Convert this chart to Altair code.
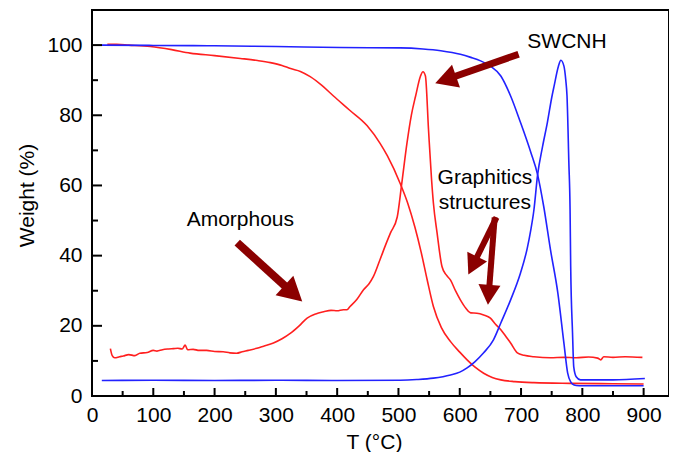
import math
import altair as alt
import pandas as pd

# ---------------- data ----------------
red_tga_T = [25, 40, 60, 95, 130, 160, 200, 242, 270, 291, 310, 324, 340, 356, 375, 394, 420, 449, 470, 482,
             503, 515, 527, 537, 547, 557, 570, 585, 600, 612, 625, 639, 653, 667, 690, 721, 780, 850, 900]
red_tga_W = [100.2, 100.2, 100.0, 99.6, 98.7, 97.7, 97.0, 96.2, 95.6, 95.0, 94.2, 93.3, 92.5, 91.0, 88.5, 85.5,
             81.5, 77.0, 72.0, 68.4, 60.5, 55.0, 48.0, 41.0, 33.0, 25.5, 19.5, 15.5, 12.5, 10.3, 8.2, 6.5, 5.3,
             4.6, 4.1, 3.8, 3.6, 3.5, 3.4]

red_dtg_T = [30, 33, 37, 45, 51, 60, 70, 78, 90, 100, 106, 115, 125, 133, 140, 147, 152, 156, 165, 175, 187,
             200, 214, 225, 236, 245, 255, 269, 280, 296, 310, 324, 338, 351, 365, 378, 390, 400, 410, 416, 421,
             432, 443, 452, 459, 470, 480, 487, 498, 505, 514, 521, 528, 536, 540, 544, 549, 554, 557, 563, 571,
             578, 585, 593, 601, 610, 618, 628, 639, 650, 658, 667, 675, 683, 694, 705, 721, 748, 770, 790, 810,
             825, 830, 835, 850, 870, 898]
red_dtg_W = [13.5, 11.5, 10.9, 11.2, 11.4, 11.8, 11.5, 12.2, 12.4, 13.0, 12.8, 13.2, 13.4, 13.5, 13.6, 13.4,
             14.5, 13.2, 13.3, 13.0, 13.0, 12.7, 12.6, 12.3, 12.2, 12.6, 13.0, 13.6, 14.2, 15.1, 16.3, 17.9,
             20.0, 22.2, 23.4, 24.0, 24.4, 24.3, 24.6, 24.6, 25.5, 27.5, 30.3, 32.0, 34.0, 38.9, 43.5, 46.5,
             51.0, 60.0, 72.2, 80.0, 85.5, 91.2, 92.4, 91.2, 76.0, 61.7, 55.0, 46.5, 36.9, 34.5, 33.0, 30.0,
             27.4, 25.0, 23.7, 23.6, 23.1, 22.2, 20.5, 18.9, 17.0, 15.1, 12.3, 11.6, 11.2, 10.9, 11.0, 10.9,
             11.1, 10.8, 10.3, 11.2, 11.0, 11.2, 11.0]

blue_tga_T = [16, 100, 200, 300, 405, 503, 540, 569, 601, 618, 634, 650, 667, 683, 699, 716, 727, 737, 748,
              760, 770, 776, 781, 784, 790, 800, 900]
blue_tga_W = [100.0, 99.9, 99.8, 99.6, 99.3, 99.2, 98.9, 98.4, 97.4, 96.5, 95.5, 94.0, 91.2, 85.5, 78.0, 69.4,
              63.1, 54.0, 41.7, 29.4, 15.0, 6.6, 4.0, 3.4, 3.0, 2.9, 2.9]

blue_dtg_T = [16, 100, 200, 300, 400, 503, 530, 557, 585, 600, 612, 625, 639, 655, 667, 683, 699, 710, 716,
              721, 727, 735, 743, 750, 754, 761, 765, 770, 773, 775, 778, 780, 781, 784, 786, 790, 797, 850, 902]
blue_dtg_W = [4.4, 4.5, 4.4, 4.5, 4.4, 4.5, 4.7, 5.1, 6.0, 6.8, 8.0, 9.8, 12.3, 16.0, 20.8, 27.4, 35.0, 42.0,
              47.4, 53.0, 63.0, 71.0, 78.0, 85.0, 88.4, 94.0, 95.7, 94.0, 90.0, 85.5, 66.5, 53.0, 37.0, 18.0,
              8.3, 5.5, 4.6, 4.6, 5.0]

series_names = ["TGA (mixture)", "DTG (mixture)", "TGA (SWCNH)", "DTG (SWCNH)"]
series_colors = ["#ff1f1f", "#ff1f1f", "#2222ff", "#2222ff"]

major_x = [0, 100, 200, 300, 400, 500, 600, 700, 800, 900]
minor_x = [50, 150, 250, 350, 450, 550, 650, 750, 850]
major_y = [0, 20, 40, 60, 80, 100]
minor_y = [10, 30, 50, 70, 90]

# annotations
label_text = ["SWCNH", "Amorphous", "Graphitics", "structures"]
label_T = [775, 242, 641, 641]
label_W = [99.1, 48.5, 60.3, 53.3]

arrow_tail_T = [696, 237, 660, 657]
arrow_tail_W = [97.4, 43.7, 50.9, 50.9]
arrow_tip_T = [560, 343, 614, 646]
arrow_tip_W = [89.1, 26.9, 34.6, 26.0]
arrow_shaft = [7, 8, 6, 6]
arrow_head = [22, 24, 20, 20]

# ---------------- layout ----------------
W_PX, H_PX = 577, 386
X_MAX, Y_MAX = 941.4, 110
FONT = "Liberation Sans"
ARROW = "#8b0000"

rows = []
for name, Ts, Ws in zip(series_names, [red_tga_T, red_dtg_T, blue_tga_T, blue_dtg_T],
                        [red_tga_W, red_dtg_W, blue_tga_W, blue_dtg_W]):
    for i, (t, w) in enumerate(zip(Ts, Ws)):
        rows.append({"series": name, "T": t, "W": w, "i": i})
df = pd.DataFrame(rows)

xs = alt.Scale(domain=[0, X_MAX], nice=False, zero=False)
ys = alt.Scale(domain=[0, Y_MAX], nice=False, zero=False)

lines = alt.Chart(df).mark_line(strokeWidth=1.6, clip=True, interpolate="monotone").encode(
    x=alt.X("T:Q", scale=xs, axis=alt.Axis(values=major_x, title="T (°C)", labelFlush=False,
                                            labelOverlap=False, labelPadding=8,
                                            titleX=282, titleY=52, titleAlign="center",
                                            titleBaseline="alphabetic")),
    y=alt.Y("W:Q", scale=ys, axis=alt.Axis(values=major_y, title="Weight (%)", labelFlush=False,
                                            labelOverlap=False, labelPadding=10,
                                            titleX=-59, titleY=185, titleAngle=270, titleAlign="center",
                                            titleBaseline="alphabetic")),
    color=alt.Color("series:N", scale=alt.Scale(domain=series_names, range=series_colors), legend=None),
    order=alt.Order("i:Q"),
)

# inward ticks
tx_major = alt.Chart(pd.DataFrame({"T": major_x})).mark_rule(color="black", strokeWidth=2).encode(
    x=alt.X("T:Q", scale=xs), y=alt.value(H_PX), y2=alt.value(H_PX - 8))
tx_minor = alt.Chart(pd.DataFrame({"T": minor_x})).mark_rule(color="black", strokeWidth=2).encode(
    x=alt.X("T:Q", scale=xs), y=alt.value(H_PX), y2=alt.value(H_PX - 5))
ty_major = alt.Chart(pd.DataFrame({"W": major_y})).mark_rule(color="black", strokeWidth=2).encode(
    y=alt.Y("W:Q", scale=ys), x=alt.value(0), x2=alt.value(10))
ty_minor = alt.Chart(pd.DataFrame({"W": minor_y})).mark_rule(color="black", strokeWidth=2).encode(
    y=alt.Y("W:Q", scale=ys), x=alt.value(0), x2=alt.value(6))

# arrows
kx, ky = W_PX / X_MAX, H_PX / Y_MAX
arows = []
for tT, tW, pT, pW, sw, hl in zip(arrow_tail_T, arrow_tail_W, arrow_tip_T, arrow_tip_W, arrow_shaft, arrow_head):
    dx = (pT - tT) * kx
    dy = -(pW - tW) * ky
    L = math.hypot(dx, dy)
    ang = math.degrees(math.atan2(dx, -dy)) % 360
    d = 0.8 * hl
    nT = pT - dx / L * d / kx
    nW = pW + dy / L * d / ky
    arows.append({"tT": tT, "tW": tW, "nT": nT, "nW": nW, "pT": pT, "pW": pW,
                  "sw": sw, "ang": ang, "sz": (2 * hl) ** 2})
adf = pd.DataFrame(arows)

shafts = alt.Chart(adf).mark_rule(color=ARROW, strokeCap="butt").encode(
    x=alt.X("tT:Q", scale=xs), y=alt.Y("tW:Q", scale=ys), x2="nT:Q", y2="nW:Q",
    strokeWidth=alt.StrokeWidth("sw:Q", scale=None))
heads = alt.Chart(adf).mark_point(shape="M0,0 L-0.55,1 L0.55,1 Z", filled=True, opacity=1,
                                  color=ARROW, strokeWidth=0).encode(
    x=alt.X("pT:Q", scale=xs), y=alt.Y("pW:Q", scale=ys),
    angle=alt.Angle("ang:Q", scale=None), size=alt.Size("sz:Q", scale=None))

texts = alt.Chart(pd.DataFrame({"txt": label_text, "T": label_T, "W": label_W})).mark_text(
    font=FONT, fontSize=21, color="black", align="center", baseline="alphabetic").encode(
    x=alt.X("T:Q", scale=xs), y=alt.Y("W:Q", scale=ys), text="txt:N")

chart = alt.layer(lines, tx_major, tx_minor, ty_major, ty_minor, shafts, heads, texts).properties(
    width=W_PX, height=H_PX,
    padding={"left": 84, "top": 2, "right": 0, "bottom": 56},
    autosize=alt.AutoSizeParams(type="none"),
).configure(background="white").configure_view(stroke="black", strokeWidth=2).configure_axis(
    labelFont=FONT, labelFontSize=21, labelColor="black", titleFont=FONT, titleFontSize=21,
    titleFontWeight="normal", titleColor="black", domain=False, ticks=False, tickSize=0, grid=False,
)

chart.save("out.html", embed_options={"renderer": "svg", "actions": False})
